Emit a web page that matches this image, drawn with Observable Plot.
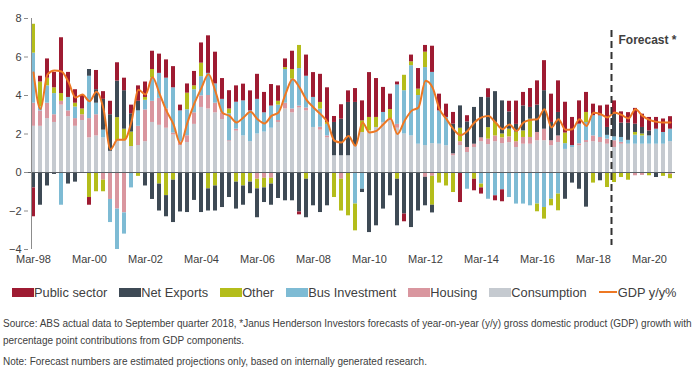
<!DOCTYPE html>
<html><head><meta charset="utf-8">
<script src="https://cdn.jsdelivr.net/npm/d3@7"></script>
<script src="https://cdn.jsdelivr.net/npm/@observablehq/plot@0.6"></script>
<style>
body{margin:0;background:#fff;font-family:"Liberation Sans",Arial,sans-serif;color:#404040;}
#chart{width:696px;height:376px;overflow:hidden;position:relative;}
.legend{display:flex;align-items:center;gap:12px;padding-left:12px;margin-top:11px;height:14px;font-size:12.8px;white-space:nowrap;}
.item{display:flex;align-items:center;}
.sw{width:22px;height:9px;display:inline-block;}
.ln{width:18px;height:2px;display:inline-block;margin-right:1px;}
.cap{font-size:10px;line-height:17px;padding-left:3px;white-space:nowrap;}
</style></head><body><div id="chart"></div>
<script>
const years = [1998,1999,2000,2001,2002,2003,2004,2005,2006,2007,2008,2009,2010,2011,2012,2013,2014,2015,2016,2017,2018,2019,2020];
const months = ["Mar","Jun","Sep","Dec"];
const quarters = years.flatMap(y => months.map(m => `${m}-${String(y % 100).padStart(2, "0")}`));
const tickLabels = ["Mar-98","Mar-00","Mar-02","Mar-04","Mar-06","Mar-08","Mar-10","Mar-12","Mar-14","Mar-16","Mar-18","Mar-20"];
const forecastStart = "Dec-18";
const forecastLabel = "Forecast *";

const consumption = [2.4,2.4,2.8,2.6,3.5,2.9,2.4,2.7,1.8,1.9,
1.8,1.1,1.65,1.65,1.35,1.4,1.6,2.6,2.45,2.3,
1.95,1.4,1.56,2.5,3.38,3.3,3.1,2.75,1.6,2.15,
1.9,1.6,2.0,2.1,2.3,2.6,3.3,3.1,3.35,3.2,
2.34,2.2,1.8,0.87,0.87,0.87,1.39,2.08,2.16,2.34,
2.6,2.7,2.3,2.0,1.9,1.47,1.4,1.5,1.47,1.39,
0.87,1.4,1.04,1.3,1.6,1.45,1.6,1.5,1.55,1.3,
1.47,1.47,1.65,1.65,1.39,1.56,1.2,1.3,1.39,1.56,
1.6,1.56,1.47,1.3,1.47,1.47,1.47,1.47,1.47,1.47,
1.47,1.6];
const housing = [1.2,0.8,0.8,0.4,0.2,0.3,0.4,0.3,1.0,1.1,
-0.4,-1.4,-1.9,-2.1,0,1.0,1.65,1.1,1.4,1.0,
0.1,0.2,0.35,0.6,0.6,0.7,0.5,0.35,0.05,0.1,
0,0,-0.35,-0.3,-0.3,0.1,0.3,0.2,0.1,0.15,
0,0.15,0.1,0,-0.35,0,0,0,0,0,
0,0.07,0.2,0,0,0,-0.25,-0.2,0,0,
0.1,0.2,0.26,0.17,0.2,0.28,0.3,0.3,0.3,0.3,
0.35,0.35,0.43,0.6,0.26,0.34,0,0,0.1,0.1,
0.3,0.26,0.26,0.35,0.1,0,-0.17,-0.15,0,0,
0,-0.1];
const busInvestment = [2.6,0.2,0.9,1.1,-1.7,0.7,0.6,0,2.2,0.6,
0.4,-1.2,-2.1,-1.1,-0.8,0.8,0.5,1.2,1.3,1.6,
2.35,1.6,1.35,1.2,1.0,1.15,1.0,0.7,1.4,1.4,
1.82,1.6,1.8,1.0,1.15,0.8,1.75,1.55,1.95,1.65,
1.56,0.94,0.6,0,0,0,-1.64,-0.87,0,0,
0.52,0,2.05,2.25,3.65,2.53,4.05,3.7,1.73,1.47,
0,0,-0.87,0,-0.6,-1.39,-1.21,-0.9,-1.3,-1.64,
-1.64,-1.73,-1.64,-1.82,-1.39,-1.12,0.3,0.1,1.02,0.94,
1.05,1.12,0.2,0.2,0.25,0.2,0.47,0.43,0.43,0.78,
0.61,0.65];
const other = [1.5,1.3,0.4,0.3,0.4,0,0.2,0.3,-1.3,-1.0,
-0.6,0,1.2,0.6,0.75,-0.2,0.15,0.45,-0.6,-1.2,
-0.4,0,0.86,0.2,0.7,-0.85,-0.7,0,0.25,-0.5,
-0.7,-0.5,-0.5,-0.5,-0.3,0.2,0.1,0.5,1.2,-0.35,
0,0.35,0.1,-1.3,-1.65,-2.25,-1.39,0.6,0.7,0.52,
0,0.5,-0.35,0.8,0.2,0.33,0.8,-1.5,-0.55,-0.7,
-1.04,0.7,0,-0.35,-0.2,0.6,0.7,0.2,0.4,0.5,
0.34,0.95,-0.4,-0.6,-0.34,-0.87,0.55,0,0,0.52,
-0.55,0,-0.78,-0.52,-0.26,-0.4,0.14,0.1,-0.17,0,
-0.2,-0.22];
const netExports = [-0.8,-1.7,-0.7,-0.1,0,-0.6,-0.5,-0.05,0.35,0.7,
1.6,1.9,1.9,2.0,0.95,0.5,-0.7,-1.4,-1.4,-1.1,
-2.2,-2.05,-2.08,-1.45,-2.08,-1.15,-1.3,-1.82,-1.3,-1.4,
-1.0,-0.6,-1.5,-0.76,-1.1,-1.35,-1.47,-1.47,-2.05,-2.0,
-1.73,-2.08,-1.73,1.73,1.9,2.77,2.25,-0.17,-3.12,-2.77,
-1.9,-1.21,-2.42,-2.16,-2.86,-2.0,-1.48,-0.4,0,0,
1.54,1.16,1.33,1.91,2.1,1.56,1.6,1.72,0.9,0.4,
1.3,0.61,1.42,2.0,0.95,1.22,-1.39,-0.55,-0.87,-1.8,
0,-0.43,0.41,1.18,0.75,0.89,0.43,0.34,0.26,-0.26,
0,0];
const publicSector = [-1.5,0.3,1.0,0.8,2.9,1.3,0.7,0.7,-0.4,1.0,
0.4,0.7,0.95,0.65,0.45,0.8,0.8,0.95,1.0,0.95,
1.1,0.3,0.48,0.75,1.05,1.95,1.65,1.08,0.95,0.85,
0.87,1.04,1.3,1.06,1.12,0.8,0.45,0.95,-0.15,1.1,
1.29,1.46,1.8,0.31,0.75,0.6,0.72,1.04,2.33,2.02,
1.3,0.8,0.15,-0.4,0.35,1.07,0.35,1.36,0.87,0.69,
0.61,-1.56,0.32,-0.6,-0.32,0.46,-0.26,-0.62,0.55,1.21,
0.7,0.98,1.26,1.56,1.47,1.64,1.6,1.46,1.21,1.04,
0.6,0.52,1.16,0.69,0.58,0.55,0.82,0.69,0.7,0.61,
0.7,0.65];
const gdp = [5.2,3.3,5.1,5.3,5.25,4.7,3.9,4.05,3.7,4.2,
3.3,1.2,1.7,1.7,2.65,4.3,4.05,4.95,4.1,3.2,
2.5,1.5,2.6,3.6,4.4,5.1,4.2,3.1,2.94,2.6,
2.86,3.15,2.77,2.55,2.94,3.12,4.07,4.85,4.42,3.77,
3.38,3.03,2.6,1.65,1.56,1.9,1.39,2.6,2.08,2.16,
2.51,2.81,2.0,2.68,3.2,3.38,4.76,4.42,3.29,2.77,
2.25,1.94,2.16,2.6,2.86,2.94,2.6,2.25,2.5,2.16,
2.6,2.73,2.77,3.29,2.34,2.77,2.22,2.25,2.77,2.42,
3.1,3.03,2.86,3.12,2.99,2.81,3.29,2.94,2.73,2.63,
2.6,2.6];

const seriesNames = ["Consumption","Housing","Bus Investment","Other","Net Exports","Public sector"];
const seriesColors = ["#c5cad0","#d9969f","#7ebbd4","#b4bd1b","#3e4a55","#9e1b32"];
const gdpName = "GDP y/y%";
const gdpColor = "#ee7823";
const legendOrder = ["Public sector","Net Exports","Other","Bus Investment","Housing","Consumption"];

const seriesValues = [consumption, housing, busInvestment, other, netExports, publicSector];
const rows = quarters.flatMap((q, i) => seriesNames.map((s, j) => ({quarter: q, series: s, value: seriesValues[j][i]})));
const gdpRows = quarters.map((q, i) => ({quarter: q, gdp: gdp[i]}));

const chart = Plot.plot({
  width: 696, height: 274,
  marginTop: 18, marginBottom: 25, marginLeft: 28, marginRight: 21,
  style: {fontFamily: '"Liberation Sans", Arial, sans-serif', fontSize: "11px", color: "#404040", background: "transparent"},
  x: {type: "band", domain: quarters, paddingInner: 0.43, paddingOuter: 0, axis: null},
  y: {domain: [-4, 8], axis: null},
  color: {domain: seriesNames, range: seriesColors},
  marks: [
    Plot.barY(rows, {x: "quarter", y: "value", fill: "series"}),
    Plot.ruleY([0], {stroke: "#5b6065", strokeWidth: 1}),
    Plot.ruleX([quarters[0]], {dx: -2, stroke: "#8c8c8c"}),
    Plot.axisY({ticks: [-4, -2, 0, 2, 4, 6, 8], tickSize: 4, tickPadding: 3, label: null, stroke: "#8c8c8c", fontSize: 11}),
    Plot.axisX({ticks: tickLabels, tickSize: 0, tickPadding: 6, label: null, fontSize: 11}),
    Plot.line(gdpRows, {x: "quarter", y: "gdp", stroke: gdpColor, strokeWidth: 2, curve: "monotone-x"}),
    Plot.ruleX([forecastStart], {dx: -3, stroke: "#333", strokeWidth: 2, strokeDasharray: "7,4", insetTop: 12, insetBottom: 4}),
    Plot.text([{q: forecastStart, t: forecastLabel}], {x: "q", text: "t", frameAnchor: "top", dy: 17, dx: 4, textAnchor: "start", fontWeight: "bold", fontSize: 12, fill: "#404040"})
  ]
});
const root = document.getElementById("chart");
root.appendChild(chart);

const legend = document.createElement("div");
legend.className = "legend";
legendOrder.forEach(name => {
  const it = document.createElement("div"); it.className = "item";
  const sw = document.createElement("span"); sw.className = "sw";
  sw.style.background = seriesColors[seriesNames.indexOf(name)];
  it.appendChild(sw);
  it.appendChild(document.createTextNode(name));
  legend.appendChild(it);
});
{
  const it = document.createElement("div"); it.className = "item";
  const ln = document.createElement("span"); ln.className = "ln"; ln.style.background = gdpColor;
  it.appendChild(ln); it.appendChild(document.createTextNode(gdpName));
  legend.appendChild(it);
}
root.appendChild(legend);

const captions = [
  "Source: ABS actual data to September quarter 2018, *Janus Henderson Investors forecasts of year-on-year (y/y) gross domestic product (GDP) growth with",
  "percentage point contributions from GDP components.",
  "Note: Forecast numbers are estimated projections only, based on internally generated research."
];
captions.forEach((c, i) => {
  const d = document.createElement("div"); d.className = "cap"; d.textContent = c;
  d.style.marginTop = i === 0 ? "16px" : (i === 2 ? "4px" : "0px");
  root.appendChild(d);
});
</script></body></html>
